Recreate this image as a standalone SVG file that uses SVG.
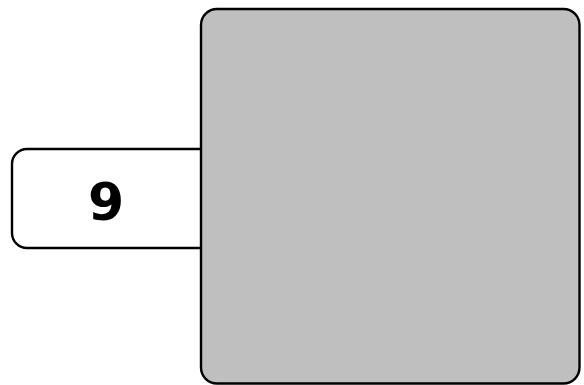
<svg xmlns="http://www.w3.org/2000/svg" width="584" height="385" viewBox="0 0 584 385">
<style>
.box{stroke:#000;stroke-width:2.4}
.lbl{font-family:"DejaVu Sans","Liberation Sans",sans-serif;font-weight:bold;fill:#000}
</style>
<rect width="584" height="385" fill="#fff"/>
<g id="node-9">
<rect class="box" x="12" y="149" width="230" height="99" rx="15" fill="#fff"/>
<text class="lbl" x="106" y="220" font-size="52" text-anchor="middle">9</text>
</g>
<g id="node-panel">
<rect class="box" x="201" y="9" width="378.5" height="374.5" rx="16" fill="#bfbfbf"/>
</g>
<g id="connectors"></g>
</svg>
